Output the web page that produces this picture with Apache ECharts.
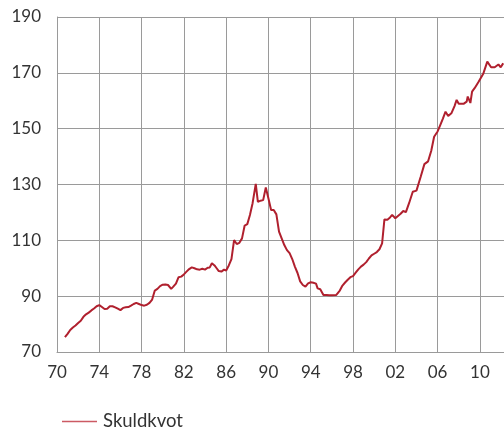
<!DOCTYPE html>
<html>
<head>
<meta charset="utf-8">
<script src="https://cdn.jsdelivr.net/npm/echarts@6/dist/echarts.min.js"></script>
<style>
  html, body { margin: 0; padding: 0; background: #fff; }
  #chart { width: 504px; height: 432px; }
</style>
</head>
<body>
<div id="chart"></div>
<script>
// kvartalsdata
const years = [
  1970.75, 1971.0, 1971.25, 1971.5, 1971.75, 1972.0, 1972.25, 1972.5, 1972.75, 1973.0,
  1973.25, 1973.5, 1973.75, 1974.0, 1974.25, 1974.5, 1974.75, 1975.0, 1975.25, 1975.5,
  1975.75, 1976.0, 1976.25, 1976.5, 1976.75, 1977.0, 1977.25, 1977.5, 1977.75, 1978.0,
  1978.25, 1978.5, 1978.75, 1979.0, 1979.25, 1979.5, 1979.75, 1980.0, 1980.25, 1980.5,
  1980.8, 1981.0, 1981.25, 1981.5, 1981.75, 1982.0, 1982.25, 1982.5, 1982.75, 1983.0,
  1983.25, 1983.5, 1983.75, 1984.0, 1984.25, 1984.45, 1984.65, 1984.9, 1985.1, 1985.3,
  1985.55, 1985.8, 1986.0, 1986.25, 1986.5, 1986.75, 1987.0, 1987.25, 1987.5, 1987.75,
  1988.0, 1988.25, 1988.5, 1988.8, 1989.0, 1989.25, 1989.5, 1989.75, 1990.0, 1990.25,
  1990.5, 1990.75, 1991.0, 1991.25, 1991.5, 1991.75, 1992.0, 1992.25, 1992.5, 1992.75,
  1993.0, 1993.25, 1993.5, 1993.75, 1994.0, 1994.25, 1994.5, 1994.65, 1994.9, 1995.2,
  1995.5, 1995.75, 1996.0, 1996.4, 1996.75, 1997.0, 1997.25, 1997.5, 1997.75, 1998.0,
  1998.25, 1998.5, 1998.75, 1999.0, 1999.25, 1999.5, 1999.75, 2000.0, 2000.25, 2000.5,
  2000.75, 2000.97, 2001.25, 2001.5, 2001.7, 2002.0, 2002.25, 2002.5, 2002.75, 2003.0,
  2003.3, 2003.65, 2004.0, 2004.4, 2004.75, 2005.1, 2005.4, 2005.67, 2006.0, 2006.25,
  2006.5, 2006.75, 2007.0, 2007.3, 2007.6, 2007.8, 2008.0, 2008.45, 2008.75, 2008.85,
  2009.1, 2009.26, 2009.5, 2009.85, 2010.0, 2010.33, 2010.7, 2011.06, 2011.4, 2011.75,
  2011.97, 2012.2
];
const skuldkvot = [
  75.3, 76.5, 77.9, 78.8, 79.5, 80.4, 81.2, 82.6, 83.5, 84.1,
  84.9, 85.6, 86.4, 86.8, 86.1, 85.4, 85.5, 86.4, 86.4, 86.0,
  85.5, 85.0, 85.8, 86.0, 86.1, 86.6, 87.2, 87.6, 87.2, 86.8,
  86.6, 86.9, 87.6, 88.8, 92.0, 92.6, 93.6, 94.1, 94.2, 94.0,
  92.6, 93.4, 94.5, 96.8, 97.0, 97.8, 98.8, 99.7, 100.3, 100.0,
  99.6, 99.5, 99.8, 99.5, 100.2, 100.3, 101.8, 101.0, 100.0, 99.0,
  98.8, 99.5, 99.2, 101.0, 103.3, 110.1, 108.7, 109.1, 110.7, 115.3,
  115.8, 119.1, 123.3, 130.2, 123.8, 124.2, 124.4, 128.9, 125.0, 120.9,
  120.9, 119.3, 113.1, 110.7, 108.3, 106.5, 105.4, 103.3, 100.6, 98.3,
  95.3, 94.0, 93.4, 94.6, 95.0, 94.8, 94.5, 92.8, 92.5, 90.4,
  90.4, 90.3, 90.3, 90.4, 92.0, 93.8, 94.9, 95.9, 96.8, 97.2,
  98.4, 99.6, 100.6, 101.3, 102.2, 103.5, 104.6, 105.2, 105.8, 106.8,
  108.9, 117.5, 117.4, 118.2, 119.1, 117.9, 118.7, 119.5, 120.5, 120.1,
  123.3, 127.4, 127.8, 132.8, 137.3, 138.3, 142.1, 147.1, 149.0, 151.3,
  153.6, 156.1, 154.5, 155.5, 158.1, 160.3, 158.9, 158.9, 159.7, 161.5,
  159.2, 163.3, 164.5, 166.6, 166.6, 169.8, 174.0, 172.0, 172.0, 173.0,
  172.0, 173.4
];
const seriesName = 'Skuldkvot';
const yTicks = [70, 90, 110, 130, 150, 170, 190];

const font = 'Lato, "Open Sans", sans-serif';
const gridColor = '#9a9a9a';
const lineColor = '#b0202e';

const chart = echarts.init(document.getElementById('chart'));
chart.setOption({
  animation: false,
  textStyle: { fontFamily: font },
  grid: { left: 57, right: 0, top: 17, bottom: 80, containLabel: false },
  legend: {
    left: 57,
    top: 407,
    icon: 'rect',
    itemWidth: 35,
    itemHeight: 1.5,
    itemGap: 10,
    itemStyle: { color: '#cc5a63' },
    textStyle: { fontSize: 18.5, color: '#333', fontFamily: font, padding: [0, 0, 0, 1] },
    data: [seriesName]
  },
  xAxis: {
    type: 'value',
    min: 1970,
    max: 2012.28,
    interval: 4,
    axisLine: { show: true, lineStyle: { color: gridColor, width: 1 } },
    axisTick: { show: false },
    splitLine: { show: true, lineStyle: { color: gridColor, width: 1 } },
    axisLabel: {
      color: '#333',
      fontSize: 17,
      margin: 12,
      showMaxLabel: false,
      formatter: v => (Math.abs(v - Math.round(v)) > 0.01) ? '' : String(Math.round(v) % 100).padStart(2, '0')
    }
  },
  yAxis: {
    type: 'value',
    min: yTicks[0],
    max: yTicks[yTicks.length - 1],
    interval: yTicks[1] - yTicks[0],
    axisLine: { show: true, lineStyle: { color: gridColor, width: 1 } },
    axisTick: { show: false },
    splitLine: { show: true, lineStyle: { color: gridColor, width: 1 } },
    axisLabel: { color: '#333', fontSize: 17, margin: 16 }
  },
  series: [{
    name: seriesName,
    type: 'line',
    symbol: 'none',
    lineStyle: { color: lineColor, width: 2 },
    itemStyle: { color: lineColor },
    data: years.map((y, i) => [y, skuldkvot[i]])
  }]
});
</script>
</body>
</html>
